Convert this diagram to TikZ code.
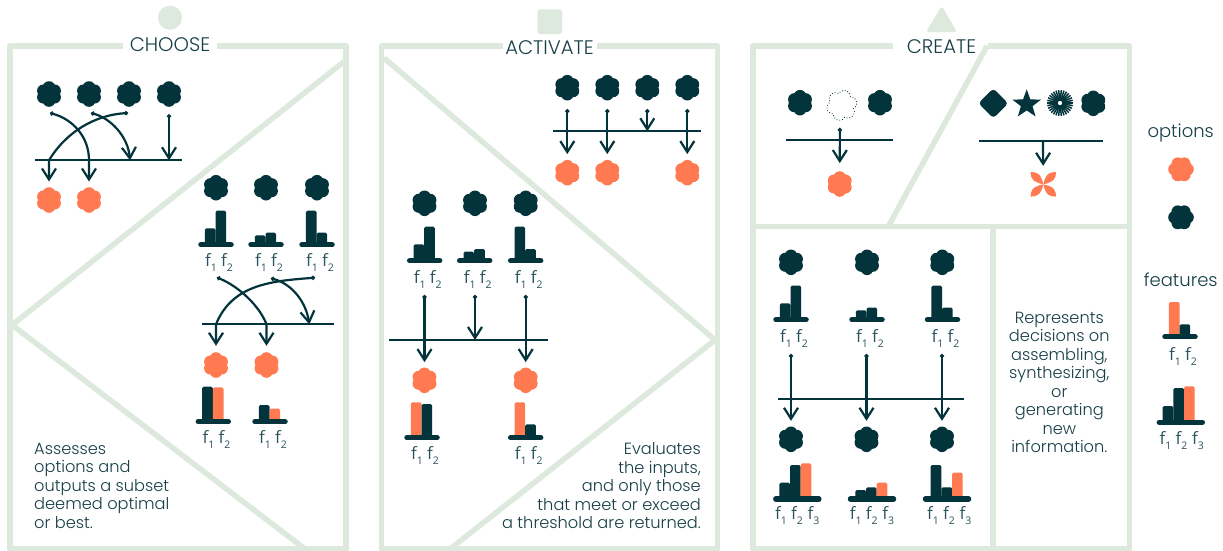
\documentclass[tikz,border=0pt]{standalone}
\usepackage{fontspec}
\setmainfont{Poppins}
\newfontfamily\lightf{Poppins Light}
\newfontfamily\labfont{Open Sans}
\usetikzlibrary{arrows.meta,shapes.geometric,calc}
\definecolor{ink}{HTML}{03333B}
\definecolor{inkl}{HTML}{173F47}
\definecolor{labc}{HTML}{2C545C}
\definecolor{tang}{HTML}{FF7A50}
\definecolor{sage}{HTML}{DEE9DE}
\newcounter{labc}
\tikzset{
  frameline/.style={draw=sage,line width=5.5pt,line join=round},
  diag/.style={draw=sage,line width=5.5pt},
  conn/.style={draw=ink,line width=2.2pt,-{Straight Barb[length=11pt,width=14pt,line width=2.2pt]}},
  dconn/.style={draw=ink,line width=2.2pt,{Circle[length=4pt,width=4pt]}-{Straight Barb[length=11pt,width=14pt,line width=2.2pt]}},
  hbar/.style={draw=ink,line width=2.2pt},
  flowerbase/.style={circle,minimum size=20pt,inner sep=0pt},
  base/.style={draw=ink,line width=5.5pt,line cap=round},
  barshape/.style={rounded corners=1.5pt},
  title/.style={font=\lightf\fontsize{19.6}{21}\selectfont,text=inkl,inner sep=0pt},
  para/.style={font=\lightf\fontsize{16.2}{18.5}\selectfont,text=inkl,inner sep=0pt},
  legend/.style={font=\lightf\fontsize{18}{20}\selectfont,text=inkl,inner sep=0pt},
  flab/.style={anchor=base west,inner sep=0pt,text=labc,font=\labfont\fontsize{17}{17}\selectfont}
}
\newcommand{\flower}[5][0]{%
  \node[flowerbase,fill=#5] (#2) at (#3,#4) {};
  \foreach \aa in {30,90,150,210,270,330}{\fill[#5] (#2) ++({\aa+#1}:6.5pt) circle (6.3pt);}
}
\newcommand{\flabel}[3]{% x, baseline, n
  \stepcounter{labc}%
  \node[flab] (lab\arabic{labc}) at (#1-3,#2) {f\raisebox{-5pt}{\fontsize{10.5}{10.5}\selectfont #3}};
}
% cx, base, top1, col1, top2, col2, label baseline
\newcommand{\twochart}[7]{%
  \fill[#4,barshape] (#1-11.2,#2) rectangle (#1-0.5,#3);
  \fill[#6,barshape] (#1-0.5,#2) rectangle (#1+10.2,#5);
  \draw[base] (#1-15,#2) -- (#1+15,#2);
  \flabel{#1-8}{#7}{1}\flabel{#1+8}{#7}{2}
}
% cx, x0, base, top1, top2, top3, label baseline, label x1
\newcommand{\threechart}[8]{%
  \fill[ink,barshape] (#2,#3) rectangle (#2+10.7,#4);
  \fill[ink,barshape] (#2+10.7,#3) rectangle (#2+21.4,#5);
  \fill[tang,barshape] (#2+21.4,#3) rectangle (#2+32,#6);
  \draw[base] (#1-21.5,#3) -- (#1+21.5,#3);
  \flabel{#8}{#7}{1}\flabel{#8+16}{#7}{2}\flabel{#8+32.5}{#7}{3}
}
\begin{document}
\begin{tikzpicture}[x=1pt,y=-1pt]
\useasboundingbox (0,0) rectangle (1223,550);
\fill[white] (0,0) rectangle (1223,550);

% ---------- CHOOSE frame
\fill[sage] (170,17.7) circle (12pt);
\node[title] (tchoose) at (170,44.5) {CHOOSE};
\draw[frameline] (123,46) -- (10,46) -- (10,549) -- (346,549) -- (346,46) -- (217,46);
\draw[diag] (346,60) -- (12,325) -- (305,549);

% CHOOSE top group
\flower{a1}{49}{94}{ink}\flower{a2}{89}{94}{ink}\flower{a3}{129}{94}{ink}\flower{a4}{169}{94}{ink}
\flower{ao1}{49}{200}{tang}\flower{ao2}{89}{200}{tang}
\coordinate (abl) at (35,160.3); \coordinate (abr) at (182,160.3);
\draw[hbar] (abl) -- (abr);
\coordinate (as1) at (50,113); \coordinate (as2) at (91,113); \coordinate (as3) at (128,113);
\coordinate (ak1) at (89,160.3); \coordinate (ak3) at (49,160.3);
\coordinate (ae2) at (130,160.3); \coordinate (ae4) at (169,160.3);
\draw[dconn,shorten >=8.3pt] (as1) .. controls (72,119) and (89,136) .. (ak1) -- (ao2);
\draw[dconn] (as2) .. controls (110,118) and (128,136) .. (ae2);
\draw[dconn,shorten >=8.3pt] (as3) .. controls (95,115) and (66,132) .. (ak3) -- (ao1);
\draw[dconn,shorten <=10pt] (a4) -- (ae4);

% CHOOSE lower group
\flower{b1}{216}{187.7}{ink}\flower{b2}{266}{187.7}{ink}\flower{b3}{317}{187.7}{ink}
\twochart{216}{244.7}{228.3}{ink}{210.7}{ink}{266.7}
\twochart{266}{244.7}{235.3}{ink}{232.7}{ink}{266.7}
\twochart{317}{244.7}{210.7}{ink}{232.7}{ink}{266.7}
\flower{bo1}{216}{365}{tang}\flower{bo2}{266.5}{365}{tang}
\coordinate (bbl) at (202,324.3); \coordinate (bbr) at (334,324.3);
\draw[hbar] (bbl) -- (bbr);
\coordinate (bs1) at (217,277.5); \coordinate (bs2) at (271,278.3); \coordinate (bs3) at (315,277.7);
\coordinate (bk1) at (266.5,324.3); \coordinate (bk3) at (216,324.3); \coordinate (be2) at (309.3,324.3);
\draw[dconn,shorten >=9pt] (bs1) .. controls (240,287) and (260,307) .. (bk1) -- (bo2);
\draw[dconn] (bs2) .. controls (292,284) and (306,302) .. (be2);
\draw[dconn,shorten >=9pt] (bs3) .. controls (270,281) and (232,285) .. (bk3) -- (bo1);
\twochart{213.3}{421.7}{386.7}{ink}{387.3}{tang}{443.5}
\twochart{270}{421.7}{405}{ink}{408.7}{tang}{443.5}
\node[para,anchor=west,align=left] (tx1) at (34,485.5) {Assesses\\options and\\outputs a subset\\deemed optimal\\or best.};

% ---------- ACTIVATE frame
\fill[sage,rounded corners=2.5pt] (537.5,9.3) rectangle (562,34);
\node[title] (tactivate) at (549.5,48) {ACTIVATE};
\draw[frameline] (503,46) -- (381.7,46) -- (381.7,549) -- (717.5,549) -- (717.5,46) -- (596.7,46);
\draw[diag] (384,58) -- (715,340) -- (450,549);

% ACTIVATE top group
\flower{c1}{567.3}{87.7}{ink}\flower{c2}{607.3}{87.7}{ink}\flower{c3}{647.3}{87.7}{ink}\flower{c4}{687.3}{87.7}{ink}
\flower{co1}{567.3}{172.7}{tang}\flower{co2}{607.3}{172.7}{tang}\flower{co4}{687.3}{172.7}{tang}
\coordinate (cbl) at (553.3,131.3); \coordinate (cbr) at (700.7,131.3);
\draw[hbar] (cbl) -- (cbr);
\coordinate (ce3) at (647.3,131.3);
\draw[dconn,shorten <=11.3pt,shorten >=8.4pt] (c1) -- (co1);
\draw[dconn,shorten <=11.3pt,shorten >=8.4pt] (c2) -- (co2);
\draw[dconn,shorten <=11.3pt] (c3) -- (ce3);
\draw[dconn,shorten <=11.3pt,shorten >=8.4pt] (c4) -- (co4);

% ACTIVATE lower group
\flower{d1}{424.5}{203.3}{ink}\flower{d2}{475}{203.3}{ink}\flower{d3}{525.7}{203.3}{ink}
\twochart{424.7}{260.7}{244.3}{ink}{226.7}{ink}{283.3}
\twochart{474.7}{260.7}{251.7}{ink}{249}{ink}{283.3}
\twochart{525.7}{260.7}{226.7}{ink}{249}{ink}{283.3}
\flower{do1}{424.5}{380.3}{tang}\flower{do3}{525.7}{380.3}{tang}
\coordinate (dbl) at (389,340); \coordinate (dbr) at (547.7,340);
\draw[hbar] (dbl) -- (dbr);
\coordinate (ds1) at (424.5,295); \coordinate (ds2) at (475,295); \coordinate (ds3) at (525.7,295);
\coordinate (de2) at (475,340);
\draw[dconn,shorten >=8pt] (ds1) -- (do1);
\draw[dconn] (ds2) -- (de2);
\draw[dconn,shorten >=8pt] (ds3) -- (do3);
\twochart{422}{437.7}{402.3}{tang}{404}{ink}{459.5}
\twochart{525.7}{437.7}{402.3}{tang}{424.3}{ink}{459.5}
\node[para,anchor=east,align=right] (tx2) at (701,485.7) {Evaluates\\the inputs,\\and only those\\that meet or exceed\\a threshold are returned.};

% ---------- CREATE frame
\fill[sage,rounded corners=2.5pt] (941.7,6) -- (957,32) -- (926,32) -- cycle;
\node[title] (tcreate) at (941.5,46.5) {CREATE};
\draw[frameline] (893,46) -- (753,46) -- (753,549) -- (1129.7,549) -- (1129.7,46) -- (987.7,46);
\draw[diag] (987,46) -- (888.5,226);
\draw[diag] (753,226.5) -- (1129.7,226.5);
\draw[diag] (993,226.5) -- (993,549);

% CREATE upper left
\flower{e1}{800}{102.7}{ink}\flower{e3}{880}{102.7}{ink}
\node[flowerbase] (e2) at (840,102.7) {};
\draw[ink,line width=0.8pt,dotted] (840,102.7) ++(30:12pt) \foreach \aa in {90,150,210,270,330,390}{ -- ++(\aa+60:0pt) arc[start angle=\aa-90,delta angle=150,radius=6.3pt] };
\coordinate (ebl) at (786,140); \coordinate (ebr) at (892.7,140);
\draw[hbar] (ebl) -- (ebr);
\flower{eo}{839.7}{184}{tang}
\draw[dconn,shorten <=15pt,shorten >=10.7pt] (e2) -- (eo);

% CREATE upper right
\node[diamond,aspect=1,fill=ink,minimum size=30pt,inner sep=0pt,rounded corners=3.5pt] (g1) at (993.3,103.3) {};
\node[star,star points=5,star point ratio=2.45,fill=ink,minimum size=30pt,inner sep=0pt] (g2) at (1026.7,104.3) {};
\node[circle,minimum size=26pt,inner sep=0pt] (g3) at (1060,103) {};
\foreach \aa in {0,12,...,348}{\draw[ink,line width=1.5pt] (g3) ++(\aa:2.4pt) -- ++(\aa:10.6pt);}
\flower{g4}{1093.3}{103.3}{ink}
\coordinate (gbl) at (979.3,140.7); \coordinate (gbr) at (1103.3,140.7); \coordinate (gs) at (1043,140.7);
\draw[hbar] (gbl) -- (gbr);
\node[circle,minimum size=24pt,inner sep=0pt] (gx) at (1043.3,184.3) {};
\foreach \sx/\sy in {1/1,1/-1,-1/1,-1/-1}{
  \begin{scope}[shift={(1043.3,184.3)},xscale=\sx,yscale=\sy]
  \fill[tang] (0,0) .. controls (11,2.5) and (12.7,6) .. (12.7,12.3) .. controls (6.5,12.3) and (2.5,11) .. (0,0);
  \end{scope}
}
\draw[conn,shorten >=6.3pt] (gs) -- (gx);

% CREATE lower
\flower{h1}{791}{262.3}{ink}\flower{h2}{867}{262.3}{ink}\flower{h3}{942.3}{262.3}{ink}
\twochart{791}{319.7}{303.3}{ink}{285.7}{ink}{342.5}
\twochart{867}{319.7}{310.3}{ink}{307.7}{ink}{342.5}
\twochart{942.5}{319.7}{285.7}{ink}{307.7}{ink}{342.5}
\coordinate (hbl) at (778.3,398.7); \coordinate (hbr) at (964.3,398.7);
\draw[hbar] (hbl) -- (hbr);
\flower{ho1}{791}{439.3}{ink}\flower{ho2}{866.5}{439.3}{ink}\flower{ho3}{942}{439.3}{ink}
\coordinate (hs1) at (791,354); \coordinate (hs2) at (866.5,354); \coordinate (hs3) at (942,354);
\draw[dconn,shorten >=8.3pt] (hs1) -- (ho1);
\draw[dconn,shorten >=8.3pt] (hs2) -- (ho2);
\draw[dconn,shorten >=8.3pt] (hs3) -- (ho3);
\threechart{797.3}{779.3}{499}{482.7}{465}{463.3}{519.3}{778}
\threechart{872}{855.3}{499}{490}{487.3}{482.7}{519.3}{852.7}
\threechart{947}{930.7}{499}{465}{487.3}{472.7}{519.3}{930}
\node[para,align=center] (tx3) at (1059.3,382.4) {Represents\\decisions on\\assembling,\\synthesizing,\\or\\generating\\new\\information.};

% ---------- legend
\node[legend] (topt) at (1180.7,133.3) {options};
\flower[30]{l1}{1181}{169.3}{tang}
\flower[30]{l2}{1181}{217.3}{ink}
\node[legend] (tfeat) at (1180.7,280) {features};
\twochart{1180}{336.7}{302}{tang}{324.3}{ink}{360}
\threechart{1180.8}{1162.7}{422.3}{406}{388}{386.3}{444}{1162.3}
\end{tikzpicture}
\end{document}
